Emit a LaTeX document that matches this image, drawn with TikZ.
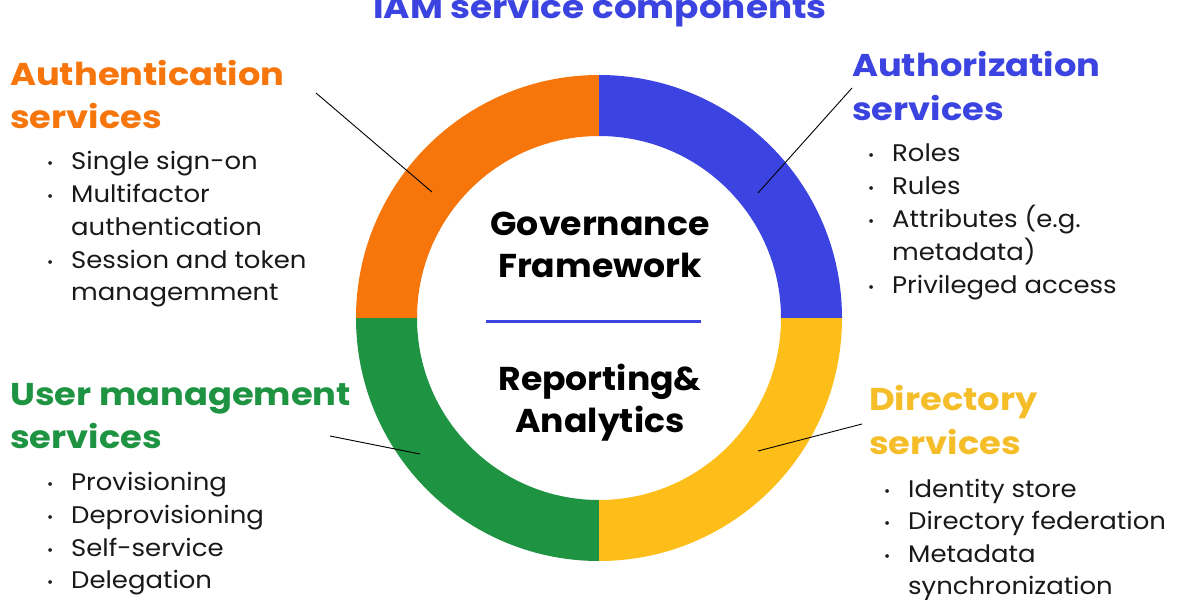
\documentclass[tikz,border=0pt]{standalone}
\usepackage{fontspec}
\setmainfont{Poppins}
\newfontfamily\headfont[FakeStretch=1.12]{Poppins}
\newfontfamily\bodyfont[FakeStretch=1.08]{Poppins}
\newfontfamily\ctrfont[FakeStretch=1.05]{Poppins}
\definecolor{cor}{RGB}{247,118,11}
\definecolor{cbl}{RGB}{59,68,224}
\definecolor{cgr}{RGB}{30,147,65}
\definecolor{cye}{RGB}{253,190,26}
\definecolor{cyt}{RGB}{245,190,40}
\definecolor{ctx}{RGB}{25,25,25}
\begin{document}
\begin{tikzpicture}[x=1pt,y=-1pt,
  head/.style={anchor=base west,inner sep=0pt,font=\headfont\fontsize{31.5}{31.5}\selectfont\bfseries},
  body/.style={anchor=base west,inner sep=0pt,text=ctx,font=\bodyfont\fontsize{24}{24}\selectfont},
  bul/.style={anchor=base west,inner sep=0pt,text=ctx,font=\fontsize{15}{15}\selectfont},
  ctr/.style={anchor=base,inner sep=0pt,text=black,font=\ctrfont\fontsize{33}{33}\selectfont\bfseries},
  lead/.style={draw=black,line width=0.9pt}]
\useasboundingbox (0,0) rectangle (1200,600);
\fill[white] (0,0) rectangle (1200,600);
\coordinate (c) at (599,318);
% ring
\begin{scope}[even odd rule]
  \clip (c) circle[radius=243pt] (c) circle[radius=182pt];
  \fill[cor] (340,60) rectangle (599,318);
  \fill[cbl] (599,60) rectangle (860,318);
  \fill[cgr] (340,318) rectangle (599,580);
  \fill[cye] (599,318) rectangle (860,580);
\end{scope}
% title
\node[anchor=base,inner sep=0pt,text=cbl,font=\headfont\fontsize{32}{32}\selectfont\bfseries] (title) at (600,18) {IAM service components};
% centre
\node[ctr] (g1) at (600,235) {Governance};
\node[ctr] (g2) at (600,277) {Framework};
\draw[cbl,line width=3pt] (486,321) -- (701,321);
\node[ctr] (r1) at (600,390) {Reporting\&};
\node[ctr] (r2) at (600,432) {Analytics};
% Authentication
\node[head,text=cor] (h1a) at (10,85) {Authentication};
\node[head,text=cor] (h1b) at (10,128) {services};
\node[bul] at (47,168) {•}; \node[body] (a1) at (71,169) {Single sign-on};
\node[bul] at (47,201) {•}; \node[body] (a2) at (71,202) {Multifactor};
\node[body] (a3) at (71,235) {authentication};
\node[bul] at (47,267) {•}; \node[body] (a4) at (71,268) {Session and token};
\node[body] (a5) at (71,300) {managemment};
% Authorization
\node[head,text=cbl] (h2a) at (852,76) {Authorization};
\node[head,text=cbl] (h2b) at (852,120) {services};
\node[bul] at (868,160) {•}; \node[body] (b1) at (892,161) {Roles};
\node[bul] at (868,193) {•}; \node[body] (b2) at (892,194) {Rules};
\node[bul] at (868,226) {•}; \node[body] (b3) at (892,227) {Attributes (e.g.};
\node[body] (b4) at (892,260) {metadata)};
\node[bul] at (868,292) {•}; \node[body] (b5) at (892,293) {Privileged access};
% User management
\node[head,text=cgr] (h3a) at (10,405) {User management};
\node[head,text=cgr] (h3b) at (10,448) {services};
\node[bul] at (47,489) {•}; \node[body] (c1) at (71,490) {Provisioning};
\node[bul] at (47,522) {•}; \node[body] (c2) at (71,523) {Deprovisioning};
\node[bul] at (47,555) {•}; \node[body] (c3) at (71,556) {Self-service};
\node[bul] at (47,587) {•}; \node[body] (c4) at (71,588) {Delegation};
% Directory
\node[head,text=cyt] (h4a) at (869,410) {Directory};
\node[head,text=cyt] (h4b) at (869,454) {services};
\node[bul] at (884,496) {•}; \node[body] (d1) at (908,497) {Identity store};
\node[bul] at (884,528) {•}; \node[body] (d2) at (908,529) {Directory federation};
\node[bul] at (884,561) {•}; \node[body] (d3) at (908,562) {Metadata};
\node[body] (d4) at (908,594) {synchronization};
% leader lines
\coordinate (l1s) at (316,93);  \coordinate (l1e) at (432,192);
\coordinate (l2s) at (852,88);  \coordinate (l2e) at (758,193);
\coordinate (l3s) at (330,436); \coordinate (l3e) at (420,454);
\coordinate (l4s) at (862,424); \coordinate (l4e) at (758,451);
\draw[lead] (l1s) -- (l1e);
\draw[lead] (l2s) -- (l2e);
\draw[lead] (l3s) -- (l3e);
\draw[lead] (l4s) -- (l4e);
\end{tikzpicture}
\end{document}
